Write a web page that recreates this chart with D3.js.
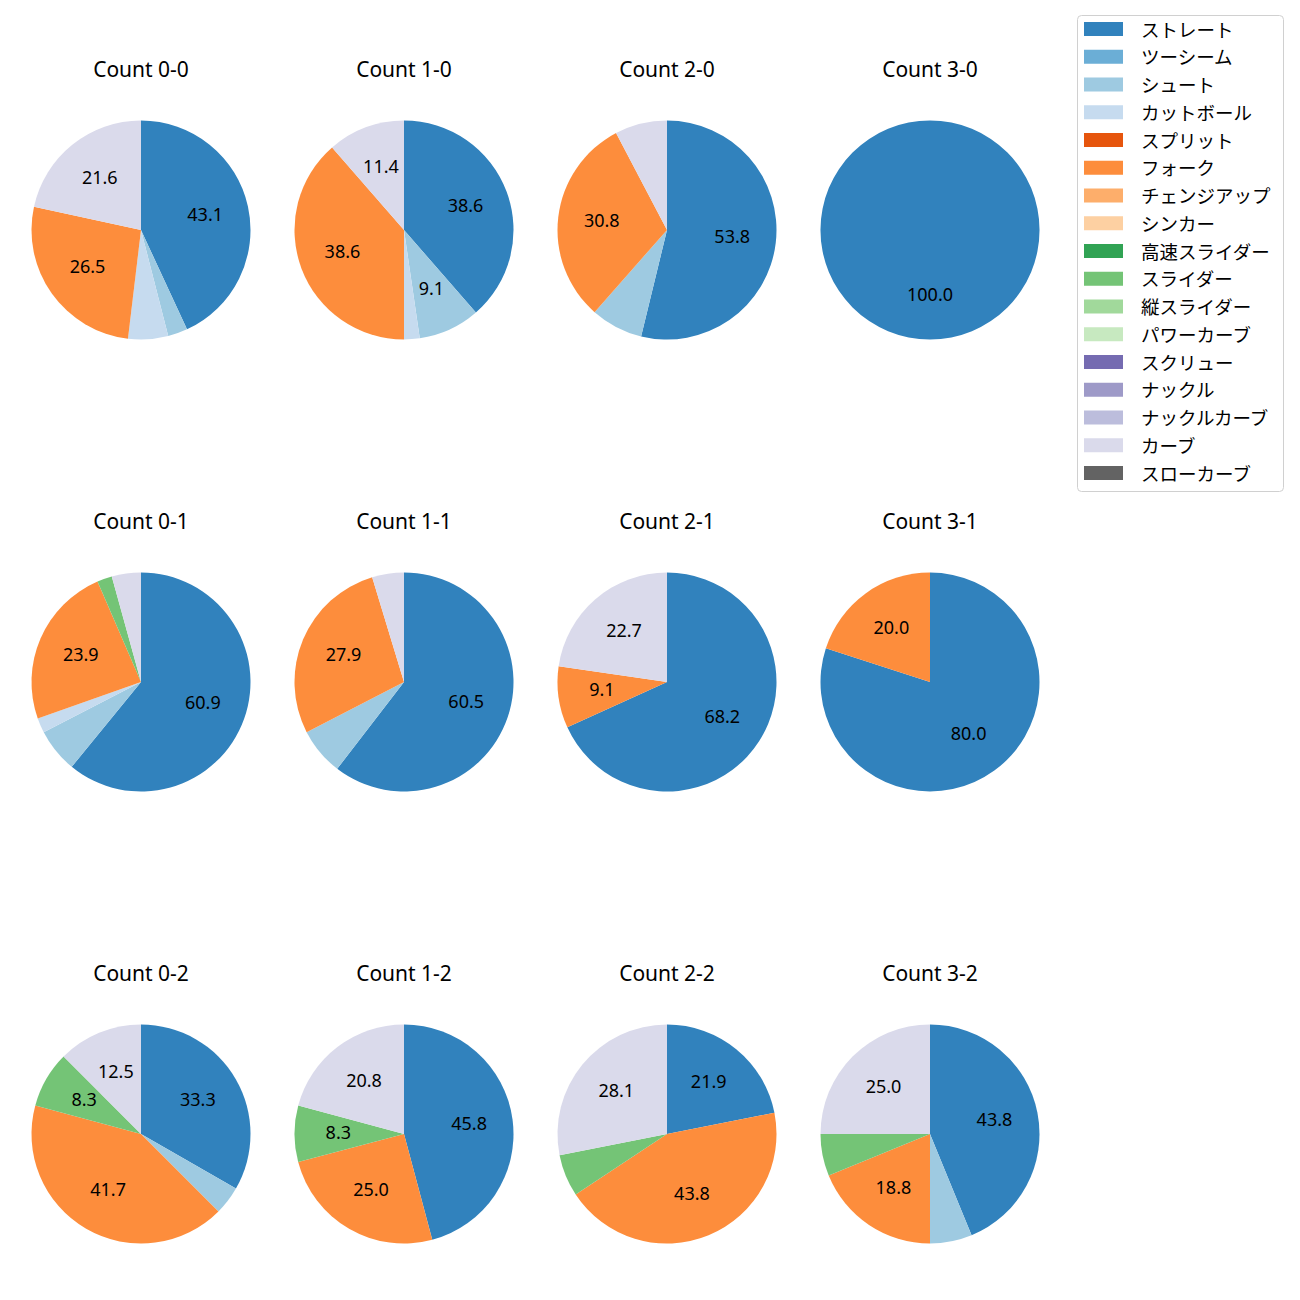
<!DOCTYPE html>
<html><head><meta charset="utf-8">
<script src="https://cdn.jsdelivr.net/npm/d3@7"></script>
<style>body{margin:0;background:#fff}svg{display:block}text{font-family:"Noto Sans","Noto Sans CJK JP",sans-serif}</style>
</head><body>
<script>
const pitchTypes = ["ストレート","ツーシーム","シュート","カットボール","スプリット","フォーク","チェンジアップ","シンカー","高速スライダー","スライダー","縦スライダー","パワーカーブ","スクリュー","ナックル","ナックルカーブ","カーブ","スローカーブ"];
const pitchColors = ["#3182bd","#6baed6","#9ecae1","#c6dbef","#e6550d","#fd8d3c","#fdae6b","#fdd0a2","#31a354","#74c476","#a1d99b","#c7e9c0","#756bb1","#9e9ac8","#bcbddc","#dadaeb","#636363"];
const countTitles = ["Count 0-0","Count 1-0","Count 2-0","Count 3-0","Count 0-1","Count 1-1","Count 2-1","Count 3-1","Count 0-2","Count 1-2","Count 2-2","Count 3-2"];
// percentages per pitch type (order of pitchTypes)
const share00 = [43.1,0,2.9,5.9,0,26.5,0,0,0,0,0,0,0,0,0,21.6,0];
const share10 = [38.6,0,9.1,2.3,0,38.6,0,0,0,0,0,0,0,0,0,11.4,0];
const share20 = [53.8,0,7.7,0,0,30.8,0,0,0,0,0,0,0,0,0,7.7,0];
const share30 = [100.0,0,0,0,0,0,0,0,0,0,0,0,0,0,0,0,0];
const share01 = [60.9,0,6.5,2.2,0,23.9,0,0,0,2.2,0,0,0,0,0,4.3,0];
const share11 = [60.5,0,7.0,0,0,27.9,0,0,0,0,0,0,0,0,0,4.7,0];
const share21 = [68.2,0,0,0,0,9.1,0,0,0,0,0,0,0,0,0,22.7,0];
const share31 = [80.0,0,0,0,0,20.0,0,0,0,0,0,0,0,0,0,0,0];
const share02 = [33.3,0,4.2,0,0,41.7,0,0,0,8.3,0,0,0,0,0,12.5,0];
const share12 = [45.8,0,0,0,0,25.0,0,0,0,8.3,0,0,0,0,0,20.8,0];
const share22 = [21.9,0,0,0,0,43.8,0,0,0,6.2,0,0,0,0,0,28.1,0];
const share32 = [43.8,0,6.2,0,0,18.8,0,0,0,6.2,0,0,0,0,0,25.0,0];
const allShares = [share00,share10,share20,share30,share01,share11,share21,share31,share02,share12,share22,share32];

const W = 1300, H = 1300;
const svg = d3.select("body").append("svg").attr("width", W).attr("height", H);

const colX = d3.scalePoint().domain([0,1,2,3]).range([141, 930]);
const rowY = d3.scalePoint().domain([0,1,2]).range([230, 1134]);
const R = 109.5;
const color = d3.scaleOrdinal().domain(pitchTypes).range(pitchColors);
const pie = d3.pie().sort(null).value(d => d.v).startAngle(0).endAngle(2*Math.PI);
const arc = d3.arc().innerRadius(0).outerRadius(R);
const labelArc = d3.arc().innerRadius(R*0.6).outerRadius(R*0.6);

allShares.forEach((shares, i) => {
  const c = i % 4, r = Math.floor(i / 4);
  const g = svg.append("g").attr("transform", `translate(${colX(c)},${rowY(r)})`);
  const data = pitchTypes.map((p, k) => ({p, v: shares[k]})).filter(d => d.v > 0);
  const arcs = pie(data);
  g.selectAll("path").data(arcs).join("path")
    .attr("d", arc).attr("fill", d => color(d.data.p));
  g.selectAll("text.lbl").data(arcs.filter(d => d.data.v >= 8)).join("text")
    .attr("class","lbl")
    .attr("transform", d => `translate(${labelArc.centroid(d)})`)
    .attr("dy", -2)
    .attr("text-anchor","middle").attr("dominant-baseline","central")
    .attr("font-size", 18).attr("fill","#000")
    .text(d => d.data.v.toFixed(1));
  g.append("text").attr("x", 0).attr("y", -161)
    .attr("text-anchor","middle").attr("dominant-baseline","central")
    .attr("font-size", 21).attr("fill","#000").text(countTitles[i]);
});

// legend
const lg = svg.append("g");
lg.append("rect").attr("x", 1077.5).attr("y", 15.5).attr("width", 206).attr("height", 476)
  .attr("rx", 4).attr("fill", "#fff").attr("stroke", "#d0d0d0");
const ly = d3.scaleLinear().domain([0, pitchTypes.length - 1]).range([29, 473]);
pitchTypes.forEach((p, k) => {
  lg.append("rect").attr("x", 1084).attr("y", ly(k) - 7).attr("width", 39).attr("height", 14).attr("fill", color(p));
  lg.append("text").attr("x", 1141).attr("y", ly(k)).attr("dominant-baseline","central")
    .attr("font-size", 18.5).attr("fill","#000").text(p);
});
</script>
</body></html>
